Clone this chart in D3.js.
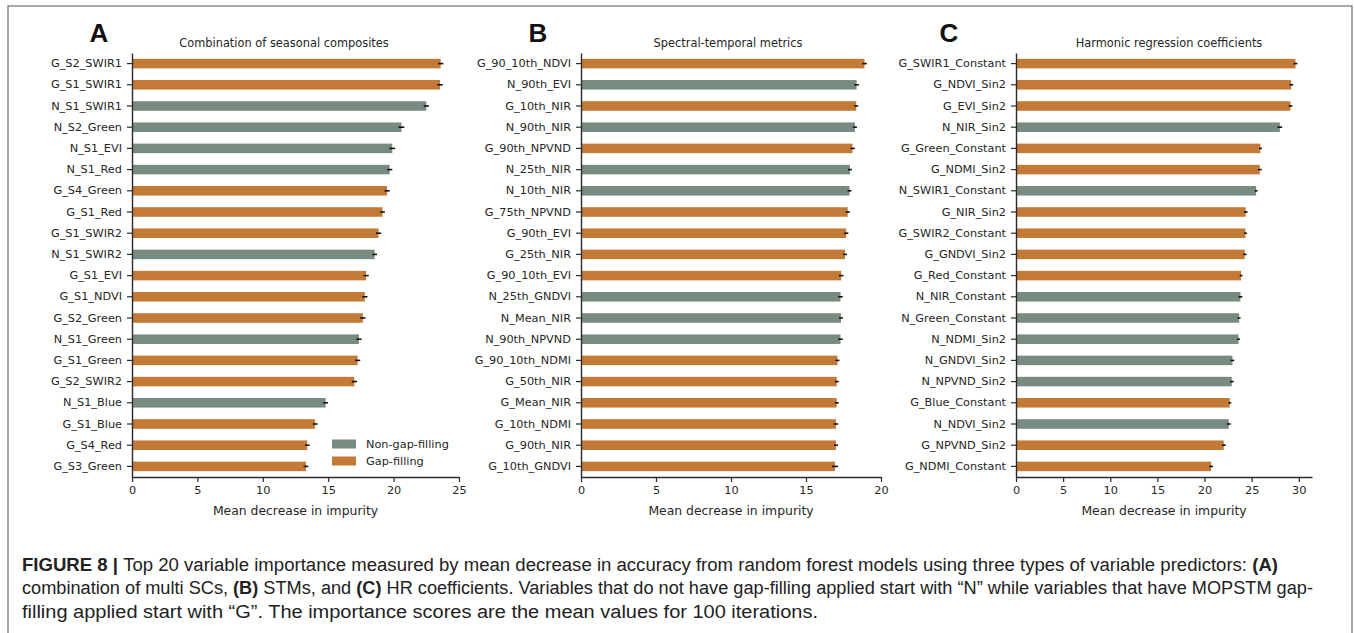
<!DOCTYPE html>
<html>
<head>
<meta charset="utf-8">
<script src="https://cdn.jsdelivr.net/npm/d3@7"></script>
<style>
  html, body { margin: 0; padding: 0; background: #fff; }
  svg { display: block; }
</style>
</head>
<body>
<svg id="chart" width="1354" height="633"></svg>
<script>
// ---------- DATA ----------
const catsA = ["G_S2_SWIR1","G_S1_SWIR1","N_S1_SWIR1","N_S2_Green","N_S1_EVI","N_S1_Red","G_S4_Green","G_S1_Red","G_S1_SWIR2","N_S1_SWIR2","G_S1_EVI","G_S1_NDVI","G_S2_Green","N_S1_Green","G_S1_Green","G_S2_SWIR2","N_S1_Blue","G_S1_Blue","G_S4_Red","G_S3_Green"];
const valsA = [23.6,23.55,22.5,20.6,19.9,19.7,19.5,19.15,18.85,18.55,17.9,17.8,17.65,17.35,17.25,17.0,14.8,14.0,13.4,13.3];
const errA  = [0.2,0.2,0.2,0.22,0.22,0.2,0.2,0.18,0.2,0.18,0.2,0.2,0.2,0.2,0.2,0.2,0.18,0.18,0.18,0.18];

const catsB = ["G_90_10th_NDVI","N_90th_EVI","G_10th_NIR","N_90th_NIR","G_90th_NPVND","N_25th_NIR","N_10th_NIR","G_75th_NPVND","G_90th_EVI","G_25th_NIR","G_90_10th_EVI","N_25th_GNDVI","N_Mean_NIR","N_90th_NPVND","G_90_10th_NDMI","G_50th_NIR","G_Mean_NIR","G_10th_NDMI","G_90th_NIR","G_10th_GNDVI"];
const valsB = [18.9,18.37,18.35,18.26,18.1,17.93,17.9,17.78,17.68,17.6,17.35,17.3,17.33,17.3,17.1,17.05,17.05,17.0,17.0,16.93];
const errB  = [0.15,0.15,0.13,0.13,0.15,0.13,0.13,0.14,0.14,0.13,0.15,0.15,0.13,0.15,0.13,0.13,0.13,0.15,0.13,0.2];

const catsC = ["G_SWIR1_Constant","G_NDVI_Sin2","G_EVI_Sin2","N_NIR_Sin2","G_Green_Constant","G_NDMI_Sin2","N_SWIR1_Constant","G_NIR_Sin2","G_SWIR2_Constant","G_GNDVI_Sin2","G_Red_Constant","N_NIR_Constant","N_Green_Constant","N_NDMI_Sin2","N_GNDVI_Sin2","N_NPVND_Sin2","G_Blue_Constant","N_NDVI_Sin2","G_NPVND_Sin2","G_NDMI_Constant"];
const valsC = [29.65,29.2,29.12,27.99,25.93,25.86,25.47,24.37,24.34,24.27,23.88,23.81,23.67,23.6,22.96,22.89,22.68,22.57,22.04,20.7];
const errC  = [0.2,0.2,0.2,0.25,0.15,0.2,0.15,0.2,0.15,0.2,0.15,0.2,0.15,0.15,0.2,0.2,0.15,0.2,0.2,0.2];

const xTicksA = [0,5,10,15,20,25];
const xTicksB = [0,5,10,15,20];
const xTicksC = [0,5,10,15,20,25,30];

const titles = ["Combination of seasonal composites","Spectral-temporal metrics","Harmonic regression coefficients"];
const letters = ["A","B","C"];
const xLabel = "Mean decrease in impurity";
const legendLabels = ["Non-gap-filling","Gap-filling"];

// ---------- STYLE ----------
const colN = "#778b80";
const colG = "#c47a37";
const axisCol = "#2b2b2b";
const tickFont = "'DejaVu Sans', sans-serif";

const svg = d3.select("#chart");

// frame
svg.append("rect").attr("x", 8).attr("y", 6).attr("width", 1344).attr("height", 640)
  .attr("fill", "none").attr("stroke", "#8a8a8a").attr("stroke-width", 1.5);

const panels = [
  {cats: catsA, vals: valsA, errs: errA, ticks: xTicksA, x0: 132, x1: 459, max: 25, titleX: 284, letterX: 99},
  {cats: catsB, vals: valsB, errs: errB, ticks: xTicksB, x0: 581, x1: 881, max: 20, titleX: 728, letterX: 538},
  {cats: catsC, vals: valsC, errs: errC, ticks: xTicksC, x0: 1016, x1: 1312, max: 31.4, titleX: 1169, letterX: 949}
];

const yTop = 53, yBot = 477;

panels.forEach((p, i) => {
  const g = svg.append("g");
  const x = d3.scaleLinear().domain([0, p.max]).range([p.x0, p.x1]);
  const y = d3.scaleBand().domain(p.cats).range([yTop, yBot]).paddingInner(0.55).paddingOuter(0.275);

  // bars
  g.selectAll("rect.bar").data(p.cats).join("rect")
    .attr("class", "bar")
    .attr("x", x(0))
    .attr("y", d => y(d))
    .attr("width", (d, j) => x(p.vals[j]) - x(0))
    .attr("height", y.bandwidth())
    .attr("fill", d => d.startsWith("N") ? colN : colG);

  // error bars
  g.selectAll("line.err").data(p.cats).join("line")
    .attr("class", "err")
    .attr("x1", (d, j) => x(p.vals[j] - p.errs[j]))
    .attr("x2", (d, j) => x(p.vals[j] + p.errs[j]))
    .attr("y1", d => y(d) + y.bandwidth() / 2)
    .attr("y2", d => y(d) + y.bandwidth() / 2)
    .attr("stroke", "#111").attr("stroke-width", 1.6);

  // axes
  const ya = g.append("g").attr("transform", `translate(${p.x0},0)`)
    .call(d3.axisLeft(y).tickSize(5).tickSizeOuter(0).tickPadding(5));
  const xa = g.append("g").attr("transform", `translate(0,${yBot})`)
    .call(d3.axisBottom(x).tickValues(p.ticks).tickFormat(d3.format("d")).tickSize(5).tickSizeOuter(0).tickPadding(4));
  [ya, xa].forEach(a => {
    a.selectAll("path.domain").attr("stroke", axisCol).attr("stroke-width", 1.4);
    a.selectAll(".tick line").attr("stroke", axisCol).attr("stroke-width", 1.2);
    a.selectAll(".tick text").attr("fill", "#262626").style("font-family", tickFont).style("font-size", "11.3px");
  });

  // title
  g.append("text").attr("x", p.titleX).attr("y", 47).attr("text-anchor", "middle")
    .style("font-family", tickFont).style("font-size", "11.4px").attr("fill", "#262626")
    .text(titles[i]);

  // letter
  g.append("text").attr("x", p.letterX).attr("y", 42).attr("text-anchor", "middle")
    .style("font-family", "'Liberation Sans', Arial, sans-serif").style("font-weight", "bold")
    .style("font-size", "26px").attr("fill", "#111")
    .text(letters[i]);

  // x label
  g.append("text").attr("x", (p.x0 + p.x1) / 2).attr("y", 515).attr("text-anchor", "middle")
    .style("font-family", tickFont).style("font-size", "12.4px").attr("fill", "#262626")
    .text(xLabel);
});

// legend in panel A
const leg = svg.append("g");
const legCols = [colN, colG];
legendLabels.forEach((t, k) => {
  leg.append("rect").attr("x", 332).attr("y", 439.5 + k * 17).attr("width", 24).attr("height", 9)
    .attr("fill", legCols[k]);
  leg.append("text").attr("x", 366).attr("y", 444 + k * 17).attr("dy", "0.35em")
    .style("font-family", tickFont).style("font-size", "11.3px").attr("fill", "#262626")
    .text(t);
});

// caption
const capFont = "'Liberation Sans', Arial, sans-serif";
const capLines = [
  {len: 1256, parts: [["FIGURE 8 | ", true], ["Top 20 variable importance measured by mean decrease in accuracy from random forest models using three types of variable predictors: ", false], ["(A)", true]]},
  {len: 1291, parts: [["combination of multi SCs, ", false], ["(B)", true], [" STMs, and ", false], ["(C)", true], [" HR coefficients. Variables that do not have gap-filling applied start with \u201CN\u201D while variables that have MOPSTM gap-", false]]},
  {len: 796, parts: [["filling applied start with \u201CG\u201D. The importance scores are the mean values for 100 iterations.", false]]}
];
capLines.forEach((l, k) => {
  const t = svg.append("text").attr("x", 22).attr("y", 571 + k * 23.3)
    .style("font-family", capFont).style("font-size", "18px").attr("fill", "#222")
    .attr("textLength", l.len).attr("lengthAdjust", "spacingAndGlyphs");
  l.parts.forEach(pt => {
    t.append("tspan").style("font-weight", pt[1] ? "bold" : "normal").text(pt[0]);
  });
});
</script>
</body>
</html>
